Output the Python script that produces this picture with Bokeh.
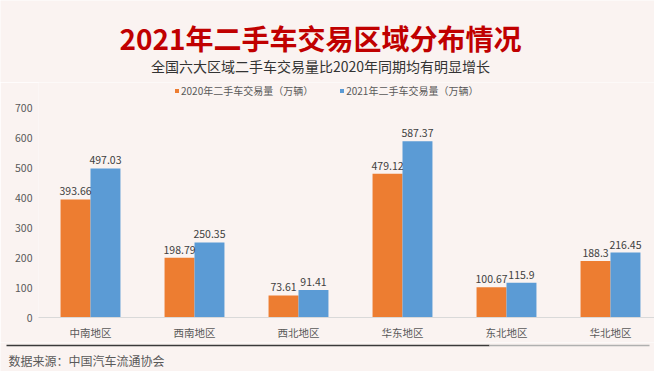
import numpy as np
from bokeh.plotting import figure
from bokeh.layouts import column
from bokeh.models import (ColumnDataSource, Range1d, FixedTicker, LabelSet, Legend, LegendItem)
from bokeh.core.properties import value
from bokeh.embed import file_html
from bokeh.resources import INLINE

# ---- data ----
regions = ["中南地区", "西南地区", "西北地区", "华东地区", "东北地区", "华北地区"]
vol_2020 = [393.66, 198.79, 73.61, 479.12, 100.67, 188.3]
vol_2021 = [497.03, 250.35, 91.41, 587.37, 115.9, 216.45]
series_names = ["2020年二手车交易量（万辆）", "2021年二手车交易量（万辆）"]
y_ticks = [0, 100, 200, 300, 400, 500, 600, 700]

title_text = "2021年二手车交易区域分布情况"
subtitle_text = "全国六大区域二手车交易量比2020年同期均有明显增长"
source_text = "数据来源：中国汽车流通协会"

BG = "#faf3f1"
ORANGE = "#ED7D31"
BLUE = "#5B9BD5"
FONT = "Noto Sans CJK SC"
W = 654


def deco_fig(h):
    f = figure(width=W, height=h, x_range=Range1d(0, W), y_range=Range1d(0, h),
               x_axis_type=None, y_axis_type=None, toolbar_location=None,
               output_backend="svg", min_border=0, background_fill_color=BG,
               border_fill_color=BG, outline_line_color=None, frame_align=False)
    f.grid.visible = False
    return f


# ---- top figure: title + subtitle ----
top_h = 82
top = deco_fig(top_h)
top.text(x=[320], y=[45], text=[title_text], text_align="center", text_baseline="middle",
         text_font=value(FONT), text_font_size="28px", text_font_style="bold",
         text_color="#c00000")
top.text(x=[320], y=[17], text=[subtitle_text], text_align="center", text_baseline="middle",
         text_font=value(FONT), text_font_size="14px", text_color="#333333")

# ---- main chart ----
idx = np.arange(len(regions))
bw = 0.288
src = ColumnDataSource(dict(
    x20=idx - bw / 2, x21=idx + bw / 2,
    v20=vol_2020, v21=vol_2021,
    l20=[str(v) for v in vol_2020], l21=[str(v) for v in vol_2021],
))

main_h = 260
bottom_border = 25
left_border = 38
scale = 0.3  # px per unit
frame_h = main_h - bottom_border
frame_w = W - left_border
p = figure(width=W, height=main_h, x_range=Range1d(-0.5, -0.5 + frame_w / 104),
           y_range=Range1d(0, frame_h / scale), toolbar_location=None,
           output_backend="svg", min_border_left=left_border, min_border_right=0,
           min_border_top=0, min_border_bottom=bottom_border, frame_align=False,
           background_fill_color=BG, border_fill_color=BG, outline_line_color=None)
p.grid.visible = False

r20 = p.vbar(x="x20", top="v20", width=bw, source=src, fill_color=ORANGE, line_color=None)
r21 = p.vbar(x="x21", top="v21", width=bw, source=src, fill_color=BLUE, line_color=None)

for xcol, lcol, ycol in (("x20", "l20", "v20"), ("x21", "l21", "v21")):
    p.add_layout(LabelSet(x=xcol, y=ycol, text=lcol, source=src, text_align="center",
                          text_baseline="bottom", y_offset=4, text_font=value(FONT),
                          text_font_size="10.5px", text_color="#404040"))

p.yaxis.ticker = FixedTicker(ticks=y_ticks)
p.yaxis.axis_line_color = None
p.yaxis.major_tick_line_color = None
p.yaxis.minor_tick_line_color = None
p.yaxis.major_tick_out = 0
p.yaxis.major_label_standoff = 6
p.yaxis.major_label_text_font = FONT
p.yaxis.major_label_text_font_size = "10.5px"
p.yaxis.major_label_text_color = "#595959"

p.xaxis.ticker = FixedTicker(ticks=list(idx))
p.xaxis.major_label_overrides = {int(i): r for i, r in zip(idx, regions)}
p.xaxis.axis_line_color = "#d9d9d9"
p.xaxis.major_tick_line_color = None
p.xaxis.minor_tick_line_color = None
p.xaxis.major_tick_out = 0
p.xaxis.major_label_standoff = 7
p.xaxis.major_label_text_font = FONT
p.xaxis.major_label_text_font_size = "10.5px"
p.xaxis.major_label_text_color = "#595959"

legend = Legend(items=[LegendItem(label=series_names[0], renderers=[r20]),
                       LegendItem(label=series_names[1], renderers=[r21])],
                orientation="horizontal", location=(136, frame_h - 16),
                glyph_width=5, glyph_height=5, label_standoff=2, spacing=26,
                padding=0, margin=0, label_height=12,
                label_text_font=FONT, label_text_font_size="10px",
                label_text_color="#595959", background_fill_alpha=0,
                border_line_color=None)
p.add_layout(legend, "center")

# ---- bottom: rule + source ----
bot_h = 29
bot = deco_fig(bot_h)
bot.segment(x0=[6], y0=[26], x1=[489], y1=[26], line_color="#3a3a3a", line_width=1.5)
bot.segment(x0=[489], y0=[26], x1=[649], y1=[26], line_color="#b0b0b0", line_width=1.5)
bot.text(x=[8], y=[11], text=[source_text], text_align="left", text_baseline="middle",
         text_font=value(FONT), text_font_size="12px", text_color="#595959")

layout = column(top, p, bot, spacing=0)
open("out.html", "w").write(file_html(layout, INLINE))
